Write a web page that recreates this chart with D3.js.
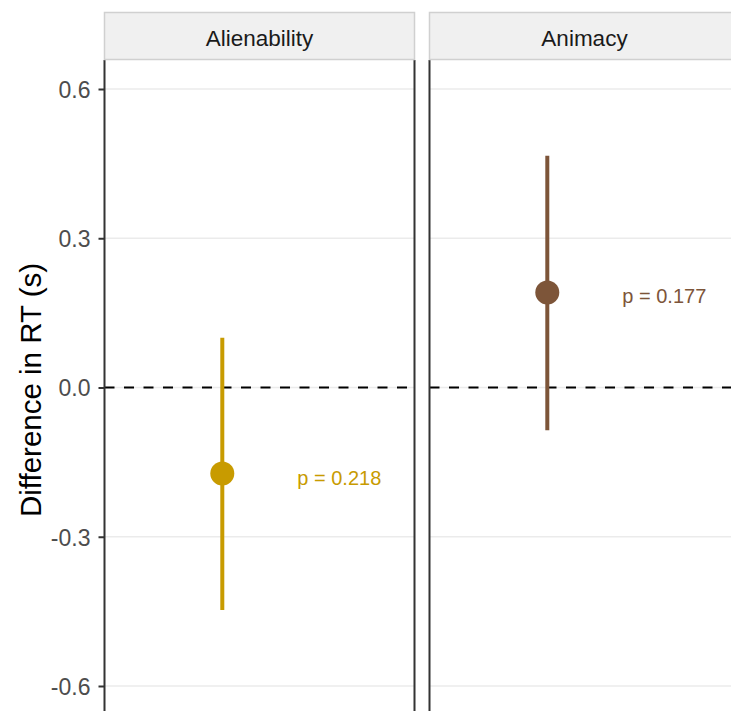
<!DOCTYPE html>
<html><head><meta charset="utf-8">
<script src="https://cdn.jsdelivr.net/npm/d3@7"></script>
<style>body{margin:0;background:#fff}svg{display:block}</style>
</head><body><svg id="c" width="731" height="711"></svg>
<script>
const facets = ["Alienability", "Animacy"];
const estimates = [-0.173, 0.191];
const lower = [-0.447, -0.086];
const upper = [0.100, 0.466];
const pLabels = ["p = 0.218", "p = 0.177"];
const colors = ["#c89b00", "#7d5539"];
const yTicks = [-0.6, -0.3, 0.0, 0.3, 0.6];

const FONT = "Liberation Sans, Arial, sans-serif";
const svg = d3.select("#c");
const panelW = 310, gap = 15, leftX = 104.5;
const panelTop = 60, panelBottom = 711;
const y = d3.scaleLinear().domain([-0.6, 0.6]).range([686, 89]);
const xIn = d3.scaleLinear().domain([0, 1]).range([0, panelW]);

facets.forEach((f, i) => {
  const x0 = leftX + i * (panelW + gap);
  const g = svg.append("g").attr("transform", `translate(${x0},0)`);
  g.selectAll("line.grid").data(yTicks).join("line")
    .attr("x1", 0).attr("x2", panelW)
    .attr("y1", d => y(d)).attr("y2", d => y(d))
    .attr("stroke", "#ebebeb").attr("stroke-width", 1.4);
  g.append("line").attr("x1", 0).attr("x2", panelW)
    .attr("y1", y(0)).attr("y2", y(0))
    .attr("stroke", "#000").attr("stroke-width", 2.2)
    .attr("stroke-dasharray", "10,9.5");
  [0, panelW].forEach(px => {
    g.append("line").attr("x1", px).attr("x2", px)
      .attr("y1", panelTop).attr("y2", panelBottom)
      .attr("stroke", "#333").attr("stroke-width", 2);
  });
  g.append("rect").attr("x", 0).attr("y", 12.5).attr("width", panelW).attr("height", 47)
    .attr("fill", "#f0f0f0").attr("stroke", "#d0d0d0").attr("stroke-width", 1.5);
  g.append("text").attr("x", panelW / 2).attr("y", 46)
    .attr("text-anchor", "middle").attr("font-family", FONT)
    .attr("font-size", 22.5).attr("fill", "#1a1a1a").text(f);
  const px = xIn(0.38);
  g.append("line").attr("x1", px).attr("x2", px)
    .attr("y1", y(lower[i])).attr("y2", y(upper[i]))
    .attr("stroke", colors[i]).attr("stroke-width", 4);
  g.append("circle").attr("cx", px).attr("cy", y(estimates[i])).attr("r", 12)
    .attr("fill", colors[i]);
  g.append("text").attr("x", xIn(0.622)).attr("y", y(estimates[i]) + 11)
    .attr("font-family", FONT).attr("font-size", 20)
    .attr("fill", colors[i]).text(pLabels[i]);
});

const ax = svg.append("g").attr("transform", `translate(${leftX},0)`)
  .call(d3.axisLeft(y).tickValues(yTicks).tickFormat(d => d3.format(".1f")(d).replace("\u2212", "-")).tickSize(6).tickPadding(8));
ax.select(".domain").remove();
ax.selectAll(".tick line").attr("stroke", "#333").attr("stroke-width", 2);
ax.selectAll(".tick text").attr("font-family", FONT)
  .attr("font-size", 23).attr("fill", "#4d4d4d").attr("dy", "0.36em");

svg.append("text").attr("transform", `translate(41,390) rotate(-90)`)
  .attr("text-anchor", "middle").attr("font-family", FONT)
  .attr("font-size", 29.5).attr("fill", "#000").text("Difference in RT (s)");
</script></body></html>
